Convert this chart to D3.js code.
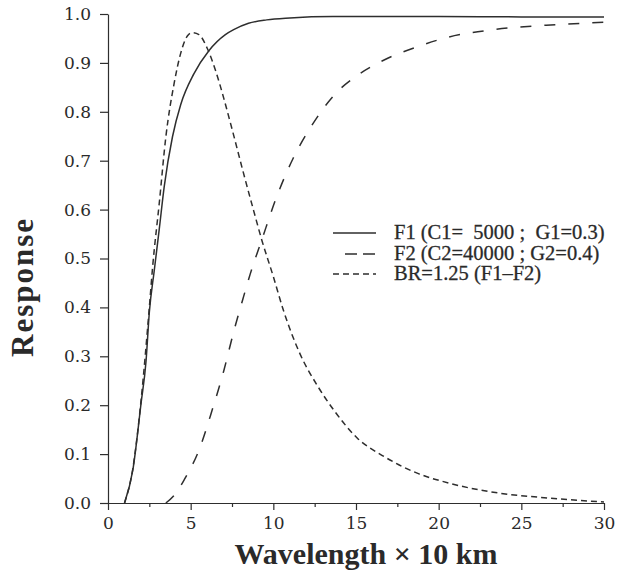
<!DOCTYPE html>
<html>
<head>
<meta charset="utf-8">
<script src="https://cdn.jsdelivr.net/npm/d3@7"></script>
<style>
  body { margin: 0; background: #fff; }
  text { fill: #2a2a2a; }
</style>
</head>
<body>
<script>
// values (wavelength in units of 10 km)
var f1Wave = [1, 1.5, 2, 2.3, 2.5, 2.8, 3.1, 3.4, 3.9, 4.4, 5.2, 6.1, 7.1, 7.6, 8.5, 9.6, 11, 13.6, 17, 20, 25, 30];
var f1Resp = [0, 0.067, 0.204, 0.29, 0.39, 0.476, 0.56, 0.647, 0.749, 0.815, 0.878, 0.925, 0.958, 0.968, 0.981, 0.988, 0.992, 0.995, 0.995, 0.995, 0.994, 0.994];

var f2Wave = [3.5, 4.1, 4.6, 5.5, 6.3, 7, 7.6, 8.2, 8.6, 9.3, 10.2, 11.2, 12.25, 13.7, 15.1, 16.7, 18.7, 20.5, 23.3, 26.5, 30];
var f2Resp = [0, 0.02, 0.047, 0.108, 0.19, 0.27, 0.35, 0.422, 0.468, 0.538, 0.626, 0.705, 0.768, 0.835, 0.875, 0.906, 0.933, 0.952, 0.968, 0.977, 0.983];

var brWave = [1, 1.5, 2, 2.5, 2.7, 3.1, 3.5, 4.0, 4.4, 4.8, 5.1, 5.5, 6.0, 6.5, 7.0, 7.5, 8.2, 8.8, 9.3, 10.0, 10.6, 11.6, 12.7, 13.7, 15.1, 16.7, 18.7, 20.7, 23.7, 26.7, 30];
var brResp = [0, 0.07, 0.21, 0.4, 0.483, 0.613, 0.749, 0.858, 0.92, 0.955, 0.962, 0.958, 0.93, 0.885, 0.828, 0.765, 0.674, 0.599, 0.538, 0.463, 0.395, 0.306, 0.238, 0.188, 0.132, 0.095, 0.061, 0.04, 0.02, 0.01, 0.002];

var xTicks = [0, 5, 10, 15, 20, 25, 30];
var xMinor = [2.5, 7.5, 12.5, 17.5, 22.5, 27.5];
var yTicks = [0, 0.1, 0.2, 0.3, 0.4, 0.5, 0.6, 0.7, 0.8, 0.9, 1.0];

var legendLabels = ["F1 (C1=  5000 ;  G1=0.3)", "F2 (C2=40000 ; G2=0.4)", "BR=1.25 (F1\u2013F2)"];

var w = 617, h = 576;
var mLeft = 108, mRight = 604, mTop = 14, mBottom = 503;

var svg = d3.select("body").append("svg")
  .attr("width", w)
  .attr("height", h);

var x = d3.scaleLinear().domain([0, 30]).range([mLeft, mRight]);
var y = d3.scaleLinear().domain([0, 1]).range([mBottom, mTop]);

var ink = "#2e2e2e";
var tickFont = "'DejaVu Serif', serif";

// x axis
var xAxis = svg.append("g")
  .attr("transform", "translate(0," + mBottom + ")")
  .call(d3.axisBottom(x).tickValues(xTicks).tickSize(7).tickSizeOuter(0).tickPadding(7).tickFormat(d3.format("d")));
svg.append("g")
  .attr("transform", "translate(0," + mBottom + ")")
  .call(d3.axisBottom(x).tickValues(xMinor).tickSize(4).tickFormat(""))
  .select(".domain").remove();

// y axis
var yAxis = svg.append("g")
  .attr("transform", "translate(" + mLeft + ",0)")
  .call(d3.axisLeft(y).tickValues(yTicks).tickSize(8).tickSizeOuter(0).tickPadding(9).tickFormat(d3.format(".1f")));

svg.selectAll(".tick line, .domain")
  .attr("stroke", ink)
  .attr("stroke-width", 1.2);
svg.selectAll(".tick text")
  .attr("font-family", tickFont)
  .attr("font-size", "17px")
  .attr("fill", ink);

// curves
var line = d3.line()
  .x(d => x(d[0]))
  .y(d => y(d[1]))
  .curve(d3.curveMonotoneX);

var series = [
  { wave: f1Wave, resp: f1Resp, dash: null },
  { wave: f2Wave, resp: f2Resp, dash: "11,13" },
  { wave: brWave, resp: brResp, dash: "6,4" }
];

svg.selectAll("path.curve")
  .data(series)
  .enter()
  .append("path")
  .attr("class", "curve")
  .attr("d", s => line(s.wave.map((v, i) => [v, s.resp[i]])))
  .attr("fill", "none")
  .attr("stroke", ink)
  .attr("stroke-width", 1.5)
  .attr("stroke-dasharray", s => s.dash);

// legend
var legend = svg.append("g");
var legY = [233, 254, 274];
legend.selectAll("line")
  .data(series)
  .enter()
  .append("line")
  .attr("x1", (d, i) => i === 1 ? 345 : 333)
  .attr("x2", 376)
  .attr("y1", (d, i) => legY[i])
  .attr("y2", (d, i) => legY[i])
  .attr("stroke", ink)
  .attr("stroke-width", 1.3)
  .attr("stroke-dasharray", (d, i) => i === 1 ? "12,6" : d.dash);

legend.selectAll("text")
  .data(legendLabels)
  .enter()
  .append("text")
  .text(d => d)
  .attr("x", 394)
  .attr("y", (d, i) => legY[i] + 6)
  .attr("font-family", "'Liberation Serif', serif")
  .attr("font-size", "20.5px")
  .attr("stroke", "#2a2a2a")
  .attr("stroke-width", 0.3)
  .style("white-space", "pre");

// axis titles
svg.append("text")
  .text("Wavelength \u00d7 10 km")
  .attr("x", (mLeft + mRight) / 2 + 10)
  .attr("y", 564)
  .attr("text-anchor", "middle")
  .attr("font-family", "'Liberation Serif', serif")
  .attr("font-weight", "bold")
  .attr("font-size", "30px");

svg.append("text")
  .text("Response")
  .attr("transform", "translate(33,287) rotate(-90)")
  .attr("text-anchor", "middle")
  .attr("font-family", "'Liberation Serif', serif")
  .attr("font-weight", "bold")
  .attr("font-size", "31px")
  .attr("letter-spacing", "2px");
</script>
</body>
</html>
